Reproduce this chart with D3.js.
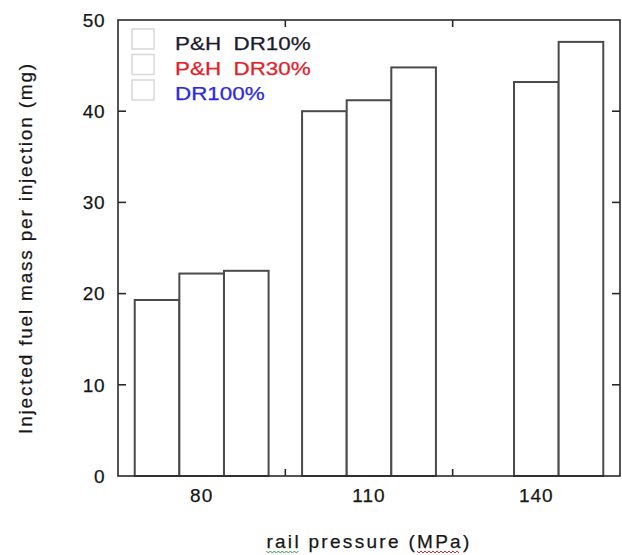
<!DOCTYPE html>
<html>
<head>
<meta charset="utf-8">
<script src="https://cdn.jsdelivr.net/npm/d3@7"></script>
<style>
  html, body { margin: 0; padding: 0; background: #fff; }
  svg { display: block; font-family: Arial, "Liberation Sans", sans-serif; }
  text { white-space: pre; }
</style>
</head>
<body>
<svg id="chart" width="622" height="555"></svg>
<script>
// Injected fuel mass per injection vs rail pressure
const pressures = [80, 110, 140];
const seriesNames = ["P&H  DR10%", "P&H  DR30%", "DR100%"];
const seriesColors = ["#1c1c30", "#e4212b", "#2b2be0"];
const massDR10 = [19.3, 40.0, null];
const massDR30 = [22.2, 41.2, 43.2];
const massDR100 = [22.5, 44.8, 47.6];
const yTicks = [0, 10, 20, 30, 40, 50];
const xMinorTicks = [95, 125];

const series = [massDR10, massDR30, massDR100];

const svg = d3.select("#chart");
const plotL = 118, plotR = 620, plotT = 20, plotB = 476;

const x = d3.scaleLinear().domain([65, 155]).range([plotL, plotR]);
const y = d3.scaleLinear().domain([0, 50]).range([plotB, plotT]);

const barUnits = 8;           // bar width in pressure units
const groupUnits = barUnits * series.length;

// bars
const bars = [];
series.forEach((vals, si) => {
  vals.forEach((v, gi) => {
    if (v == null) return;
    const x0 = pressures[gi] - groupUnits / 2 + si * barUnits;
    bars.push({ x0, x1: x0 + barUnits, v });
  });
});

svg.append("g")
  .selectAll("rect")
  .data(bars)
  .join("rect")
  .attr("x", d => x(d.x0))
  .attr("y", d => y(d.v))
  .attr("width", d => x(d.x1) - x(d.x0))
  .attr("height", d => y(0) - y(d.v))
  .attr("fill", "#fff")
  .attr("stroke", "#4a4a4a")
  .attr("stroke-width", 2);

// frame
const axisColor = "#2a2a2a";
svg.append("rect")
  .attr("x", plotL).attr("y", plotT)
  .attr("width", plotR - plotL).attr("height", plotB - plotT)
  .attr("fill", "none").attr("stroke", axisColor).attr("stroke-width", 1.6);

// y ticks (inward, both sides)
const yInner = yTicks.filter(t => t > 0 && t < 50);
const tickG = svg.append("g").attr("stroke", axisColor).attr("stroke-width", 1.6);
yInner.forEach(t => {
  tickG.append("line").attr("x1", plotL).attr("x2", plotL + 8).attr("y1", y(t)).attr("y2", y(t));
  tickG.append("line").attr("x1", plotR).attr("x2", plotR - 8).attr("y1", y(t)).attr("y2", y(t));
});
// x minor ticks between groups (inward, top and bottom)
xMinorTicks.forEach(t => {
  tickG.append("line").attr("x1", x(t)).attr("x2", x(t)).attr("y1", plotB).attr("y2", plotB - 7);
  tickG.append("line").attr("x1", x(t)).attr("x2", x(t)).attr("y1", plotT).attr("y2", plotT + 7);
});

const textColor = "#161616";

// y tick labels
svg.append("g")
  .selectAll("text")
  .data(yTicks)
  .join("text")
  .attr("x", 105)
  .attr("y", d => y(d))
  .attr("dy", "0.36em")
  .attr("text-anchor", "end")
  .attr("font-size", 19)
  .attr("letter-spacing", 0.5)
  .attr("fill", textColor)
  .attr("stroke", textColor).attr("stroke-width", 0.25)
  .text(d => d);

// x tick labels
svg.append("g")
  .selectAll("text")
  .data(pressures)
  .join("text")
  .attr("x", d => x(d))
  .attr("y", 502)
  .attr("text-anchor", "middle")
  .attr("font-size", 19)
  .attr("letter-spacing", 1)
  .attr("fill", textColor)
  .attr("stroke", textColor).attr("stroke-width", 0.25)
  .text(d => d);

// axis titles
const xTitle = svg.append("text")
  .attr("x", (plotL + plotR) / 2)
  .attr("y", 548)
  .attr("text-anchor", "middle")
  .attr("font-size", 19)
  .attr("letter-spacing", 2.3)
  .attr("fill", textColor)
  .attr("stroke", textColor).attr("stroke-width", 0.25)
  .text("rail pressure (MPa)");

svg.append("text")
  .attr("transform", `translate(32,${(plotT + plotB) / 2}) rotate(-90)`)
  .attr("text-anchor", "middle")
  .attr("font-size", 19)
  .attr("letter-spacing", 1.8)
  .attr("fill", textColor)
  .attr("stroke", textColor).attr("stroke-width", 0.25)
  .text("Injected fuel mass per injection (mg)");

// wavy proofing underlines under "rail" and "MPa"
function squiggle(node, from, to, color) {
  const a = node.getExtentOfChar(from);
  const b = node.getExtentOfChar(to);
  const x0 = a.x, x1 = b.x + b.width - 2, yy = 551;
  const pts = [];
  for (let xx = x0, k = 0; xx <= x1; xx += 2, k++) pts.push([xx, yy + (k % 2 ? 2 : 0)]);
  svg.append("path")
    .attr("d", d3.line()(pts))
    .attr("fill", "none").attr("stroke", color).attr("stroke-width", 1);
}
const xt = xTitle.node();
const xs = xt.textContent;
squiggle(xt, 0, 3, "#2e9a2e");
squiggle(xt, xs.indexOf("MPa"), xs.indexOf("MPa") + 2, "#e02828");

// legend
const legend = svg.append("g");
seriesNames.forEach((name, i) => {
  legend.append("rect")
    .attr("x", 132).attr("y", 29 + i * 25.5)
    .attr("width", 22).attr("height", 20)
    .attr("fill", "none").attr("stroke", "#d8d8d8").attr("stroke-width", 1.5);
  const t = legend.append("text")
    .attr("x", 175).attr("y", 50 + i * 25)
    .attr("font-size", 17.5)
    .attr("fill", seriesColors[i])
    .attr("stroke", seriesColors[i]).attr("stroke-width", 0.25)
    .text(name);
  const w = t.node().getComputedTextLength();
  t.attr("textLength", w * 1.28).attr("lengthAdjust", "spacingAndGlyphs");
});
</script>
</body>
</html>
